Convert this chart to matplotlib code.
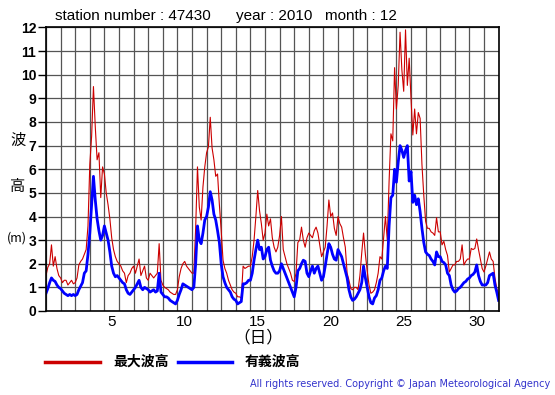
import numpy as np
import matplotlib
matplotlib.use("Agg")
import matplotlib.pyplot as plt

plt.rcParams['font.family'] = ['Liberation Sans', 'Noto Sans CJK JP', 'DejaVu Sans']

# 3時間ごとの値 (1日8点), 12月1日 00時から
hs_days = [
    [0.75, 0.95, 1.2, 1.4, 1.3, 1.25, 1.1, 1.0],
    [0.95, 0.85, 0.75, 0.7, 0.65, 0.7, 0.65, 0.7],
    [0.65, 0.7, 0.9, 1.05, 1.2, 1.6, 1.7, 2.4],
    [3.3, 4.5, 5.7, 4.7, 3.9, 3.4, 3.0, 3.2],
    [3.6, 3.3, 3.0, 2.5, 1.9, 1.6, 1.45, 1.5],
    [1.4, 1.3, 1.2, 1.15, 0.9, 0.75, 0.7, 0.8],
    [0.9, 1.0, 1.15, 1.3, 1.0, 0.9, 1.0, 0.95],
    [0.9, 0.8, 0.85, 0.9, 0.8, 0.85, 1.6, 0.8],
    [0.7, 0.6, 0.6, 0.55, 0.45, 0.4, 0.35, 0.3],
    [0.45, 0.7, 0.9, 1.15, 1.1, 1.05, 1.0, 0.95],
    [0.9, 1.0, 2.0, 3.6, 3.0, 2.85, 3.3, 3.85],
    [4.0, 4.4, 5.05, 4.7, 4.1, 3.85, 3.4, 2.9],
    [2.0, 1.45, 1.2, 1.0, 0.9, 0.8, 0.6, 0.5],
    [0.45, 0.3, 0.35, 0.4, 1.15, 1.15, 1.2, 1.3],
    [1.3, 1.6, 2.15, 2.6, 3.0, 2.6, 2.7, 2.2],
    [2.3, 2.6, 2.7, 2.15, 1.9, 1.7, 1.6, 1.6],
    [1.7, 2.0, 1.8, 1.6, 1.4, 1.2, 1.0, 0.8],
    [0.6, 1.0, 1.7, 1.8, 2.0, 2.15, 2.1, 1.6],
    [1.45, 1.7, 1.9, 1.6, 1.8, 1.9, 1.6, 1.3],
    [1.45, 1.9, 2.4, 2.85, 2.7, 2.4, 2.2, 2.15],
    [2.6, 2.45, 2.3, 2.0, 1.7, 1.4, 0.9, 0.6],
    [0.45, 0.5, 0.6, 0.75, 0.9, 1.2, 1.9, 1.4],
    [1.0, 0.6, 0.35, 0.3, 0.55, 0.65, 0.9, 1.3],
    [1.4, 1.7, 1.9, 1.8, 3.6, 4.8, 4.9, 6.0],
    [5.45, 6.3, 7.0, 6.8, 6.5, 6.8, 7.0, 5.5],
    [5.9, 4.6, 4.9, 4.5, 4.75, 4.2, 3.5, 2.9],
    [2.5, 2.4, 2.35, 2.2, 2.1, 1.95, 2.5, 2.3],
    [2.3, 2.1, 2.05, 1.95, 1.6, 1.5, 1.1, 0.9],
    [0.8, 0.85, 0.95, 1.0, 1.1, 1.2, 1.25, 1.35],
    [1.4, 1.5, 1.55, 1.65, 1.95, 1.5, 1.25, 1.1],
    [1.1, 1.1, 1.2, 1.5, 1.55, 1.6, 1.1, 0.8],
]
hs_end = 0.45

hmax_days = [
    [1.5, 1.85, 2.0, 2.8, 1.9, 2.3, 1.8, 1.5],
    [1.4, 1.2, 1.3, 1.3, 1.1, 1.2, 1.3, 1.15],
    [1.2, 1.4, 1.95, 2.1, 2.2, 2.4, 2.6, 3.6],
    [6.2, 7.4, 9.5, 7.8, 6.4, 6.7, 4.8, 6.1],
    [5.8, 5.0, 4.5, 3.9, 3.1, 2.6, 2.3, 2.1],
    [2.0, 1.9, 1.7, 1.6, 1.2, 1.5, 1.6, 1.8],
    [1.9, 1.6, 1.9, 2.2, 1.5, 1.7, 1.9, 1.4],
    [1.3, 1.6, 1.5, 1.4, 1.5, 1.6, 2.85, 1.3],
    [1.1, 1.0, 0.95, 0.9, 0.8, 0.75, 0.7, 0.7],
    [0.9, 1.45, 1.8, 2.0, 2.1, 1.9, 1.8, 1.7],
    [1.6, 1.6, 3.5, 6.1, 4.4, 3.85, 5.25, 6.1],
    [6.7, 6.95, 8.2, 6.9, 6.4, 5.7, 5.8, 4.5],
    [3.4, 2.15, 1.8, 1.6, 1.3, 1.1, 0.9, 0.8],
    [0.75, 0.6, 0.6, 0.55, 1.9, 1.8, 1.85, 1.9],
    [1.9, 2.3, 3.0, 4.0, 5.1, 4.25, 3.7, 3.0],
    [3.3, 4.1, 3.6, 3.9, 3.1, 2.7, 2.5, 2.7],
    [3.2, 4.0, 2.6, 2.3, 2.0, 1.8, 1.6, 1.3],
    [1.25, 1.6, 2.9, 3.0, 3.55, 3.0, 2.7, 3.1],
    [3.3, 3.2, 3.1, 3.4, 3.55, 3.3, 2.8, 2.3],
    [2.5, 2.7, 3.6, 4.7, 4.0, 4.15, 3.5, 3.2],
    [4.0, 3.7, 3.55, 3.1, 2.7, 1.6, 1.3, 0.95],
    [0.9, 1.0, 1.0, 0.9, 1.5, 2.45, 3.3, 2.4],
    [1.7, 1.1, 0.75, 0.8, 0.9, 1.2, 1.6, 2.3],
    [2.2, 3.1, 4.0, 3.0, 5.5, 7.5, 7.2, 10.3],
    [8.55, 9.55, 11.8, 10.2, 9.3, 11.9, 9.55, 10.7],
    [9.0, 7.45, 8.55, 7.5, 8.4, 8.15, 6.2, 4.9],
    [3.8, 3.5, 3.5, 3.35, 3.3, 3.2, 3.95, 3.35],
    [3.35, 2.8, 2.95, 2.6, 2.35, 1.65, 1.8, 1.95],
    [1.95, 2.1, 2.1, 2.2, 2.8, 1.95, 2.1, 2.2],
    [2.2, 2.65, 2.6, 2.65, 3.05, 2.6, 2.2, 1.8],
    [1.65, 1.9, 2.2, 2.5, 2.2, 2.1, 1.4, 0.95],
]
hmax_end = 0.7

day_labels = [5, 10, 15, 20, 25, 30]

hs = np.append(np.array(hs_days).ravel(), hs_end)
hmax = np.append(np.array(hmax_days).ravel(), hmax_end)
t = np.arange(len(hs)) / 8.0

W, H = 555, 395
fig = plt.figure(figsize=(W / 100, H / 100), dpi=100)
ax = fig.add_axes([46 / W, 1 - 311 / H, 452.6 / W, 283.5 / H])

ax.plot(t, hmax, color='#cc0000', lw=0.8, zorder=3)
ax.plot(t, hs, color='#0000ff', lw=2.0, zorder=4)

ax.set_xlim(0, 31)
ax.set_ylim(0, 12)
ax.set_xticks(np.arange(0, 32))
ax.set_xticklabels([])
ax.set_xticks([d - 0.5 for d in day_labels], minor=True)
ax.set_xticklabels([str(d) for d in day_labels], minor=True, fontsize=11)
ax.tick_params(axis='x', which='both', length=0, pad=3)
ax.set_yticks(np.arange(0, 13))
ax.tick_params(axis='y', length=6, width=1, direction='out', pad=1, labelsize=10)
for lb in ax.get_yticklabels():
    lb.set_fontweight('bold')
ax.grid(True, which='major', color='#555555', lw=0.9)
for s in ax.spines.values():
    s.set_linewidth(1.2)
    s.set_zorder(5)

def px(x, y):
    return x / W, 1 - y / H

cjk = ['Noto Sans CJK JP', 'DejaVu Sans']
fig.text(*px(55, 16), 'station number : 47430', fontsize=11, va='center')
fig.text(*px(236, 16), 'year : 2010', fontsize=11, va='center')
fig.text(*px(325, 16), 'month : 12', fontsize=11, va='center')

fig.text(*px(18, 140), '波', family=cjk, fontsize=11, ha='center', va='center')
fig.text(*px(18, 186), '高', family=cjk, fontsize=11, ha='center', va='center')
fig.text(*px(17, 238), '(m)', family=cjk, fontsize=9, ha='center', va='center')
fig.text(*px(258, 338), '（日）', family=cjk, fontsize=12, ha='center', va='center')

fig.add_artist(plt.Line2D([45 / W, 100 / W], [1 - 362 / H] * 2, color='#cc0000', lw=2.5))
fig.text(*px(113, 362), '最大波高', family=cjk, fontsize=10, fontweight='bold', va='center')
fig.add_artist(plt.Line2D([178 / W, 232 / W], [1 - 362 / H] * 2, color='#0000ff', lw=2.5))
fig.text(*px(245, 362), '有義波高', family=cjk, fontsize=10, fontweight='bold', va='center')

fig.text(*px(550, 384), 'All rights reserved. Copyright © Japan Meteorological Agency',
         family=['DejaVu Sans'], fontsize=7, color='#3333cc', ha='right', va='center')

fig.savefig('out.png', dpi=100)
